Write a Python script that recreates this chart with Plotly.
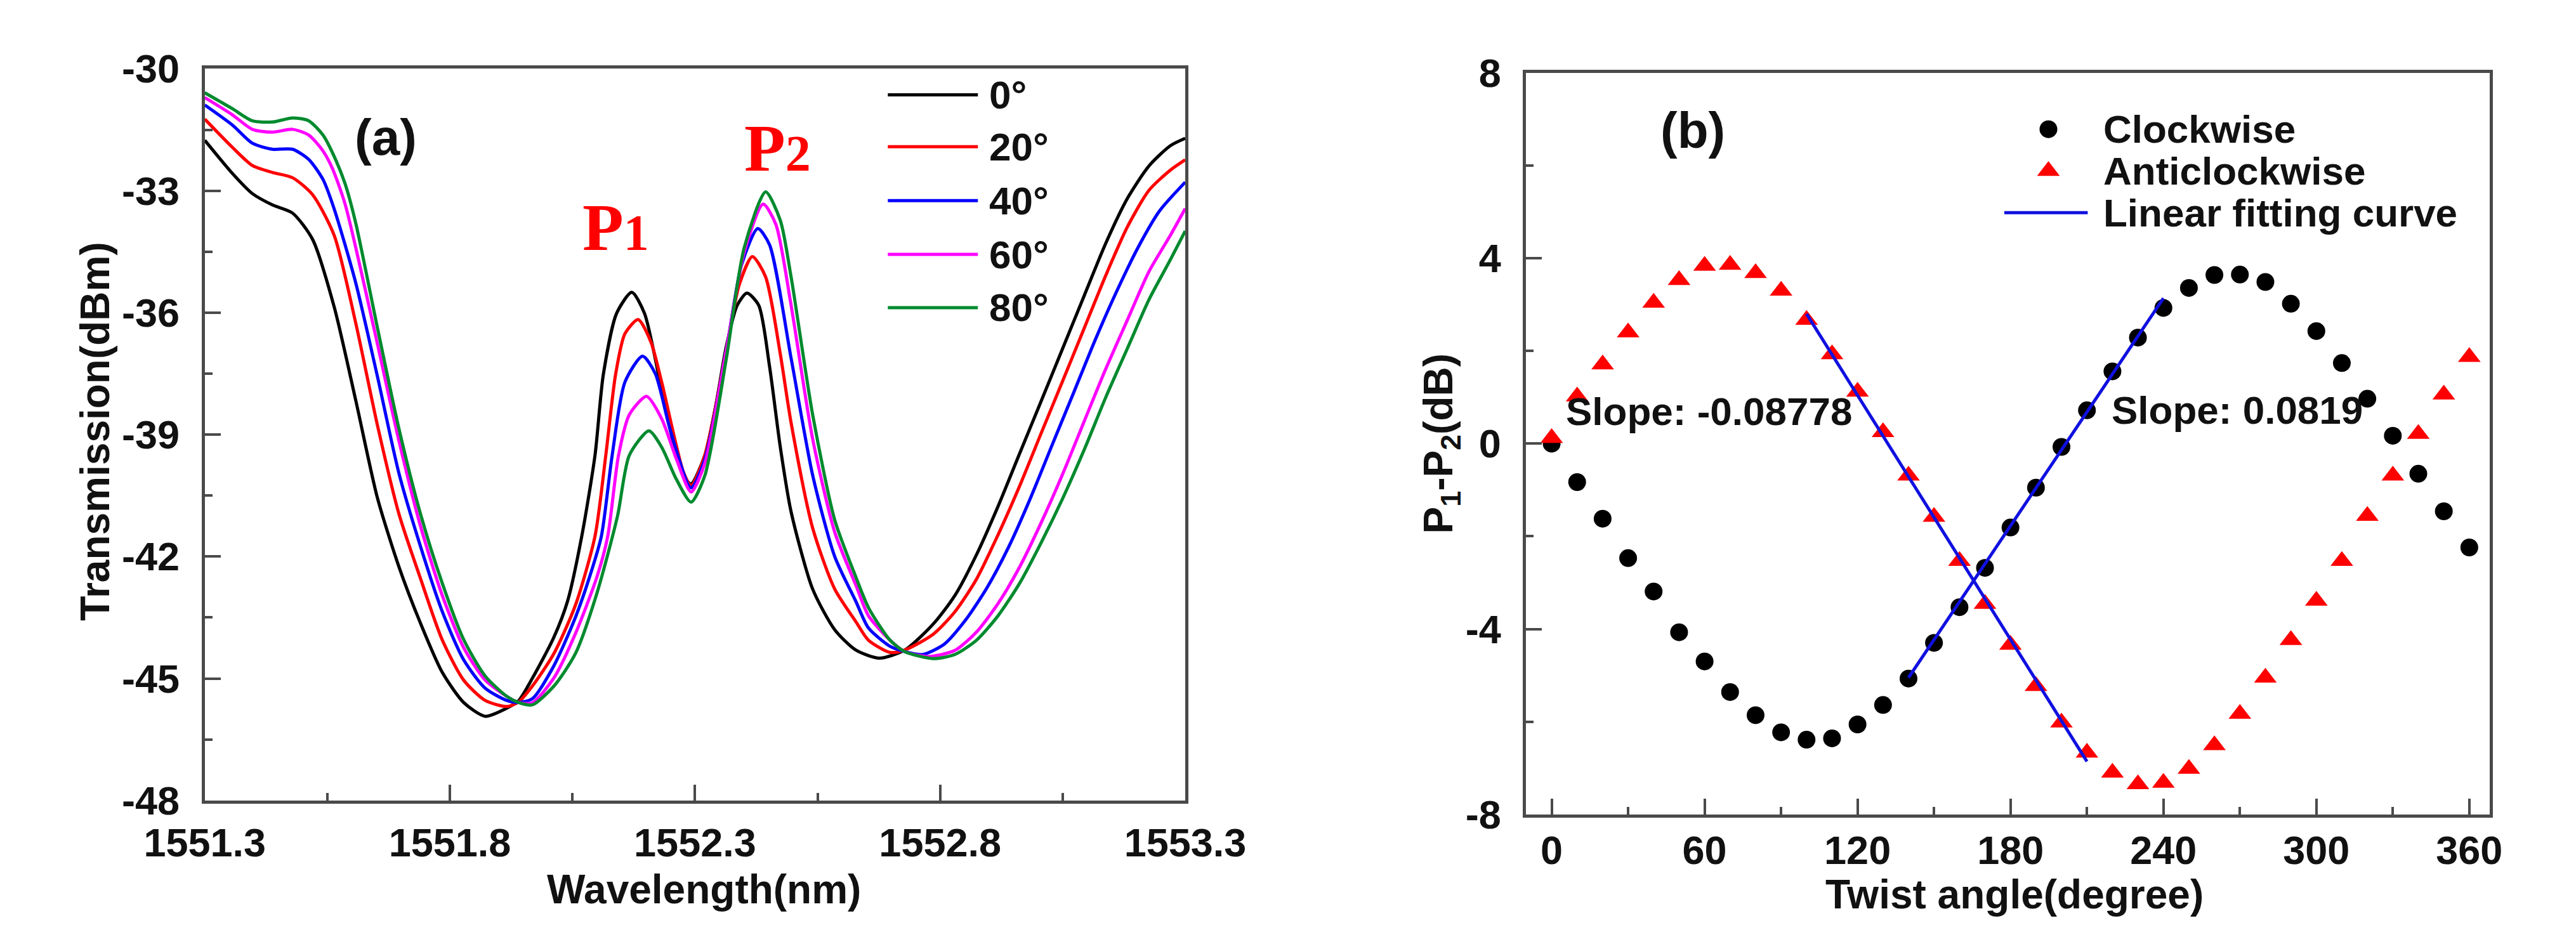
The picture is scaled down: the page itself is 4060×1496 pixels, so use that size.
import plotly.graph_objects as go

# -------------------------------
# (a) transmission spectra, one list per twist angle
# -------------------------------
wl_0 = [1551.300, 1551.356, 1551.397, 1551.438, 1551.479, 1551.520, 1551.564, 1551.608, 1551.652, 1551.696,
        1551.740, 1551.784, 1551.828, 1551.872, 1551.916, 1551.940, 1551.968, 1552.012, 1552.040, 1552.069,
        1552.096, 1552.113, 1552.140, 1552.171, 1552.197, 1552.232, 1552.254, 1552.276, 1552.292, 1552.320,
        1552.342, 1552.364, 1552.386, 1552.406, 1552.430, 1552.452, 1552.474, 1552.496, 1552.540, 1552.585,
        1552.628, 1552.676, 1552.728, 1552.786, 1552.830, 1552.874, 1552.918, 1552.962, 1553.006, 1553.050,
        1553.094, 1553.138, 1553.182, 1553.226, 1553.270, 1553.300]
tr_0 = [-31.76, -32.57, -33.07, -33.35, -33.55, -34.20, -35.86, -38.16, -40.55, -42.25,
        -43.64, -44.84, -45.59, -45.93, -45.73, -45.55, -45.00, -43.99, -43.10, -41.50,
        -39.51, -37.52, -36.02, -35.50, -36.02, -37.91, -39.11, -40.01, -40.21, -39.51,
        -38.31, -36.82, -35.82, -35.52, -35.82, -37.32, -39.31, -40.90, -42.80, -43.80,
        -44.30, -44.50, -44.30, -43.66, -42.96, -41.96, -40.77, -39.47, -38.18, -36.88,
        -35.58, -34.29, -33.19, -32.39, -31.89, -31.71]

wl_20 = [1551.300, 1551.356, 1551.397, 1551.438, 1551.479, 1551.520, 1551.564, 1551.608, 1551.652, 1551.696,
         1551.740, 1551.784, 1551.828, 1551.872, 1551.916, 1551.940, 1551.968, 1552.012, 1552.056, 1552.096,
         1552.118, 1552.138, 1552.157, 1552.184, 1552.210, 1552.232, 1552.276, 1552.292, 1552.320, 1552.364,
         1552.390, 1552.417, 1552.444, 1552.474, 1552.496, 1552.540, 1552.585, 1552.628, 1552.654, 1552.698,
         1552.728, 1552.786, 1552.830, 1552.874, 1552.918, 1552.962, 1553.006, 1553.050, 1553.094, 1553.138,
         1553.182, 1553.226, 1553.270, 1553.300]
tr_20 = [-31.24, -31.93, -32.38, -32.55, -32.68, -33.10, -34.10, -36.26, -38.76, -40.95,
         -42.54, -44.04, -45.04, -45.54, -45.69, -45.58, -45.19, -44.39, -43.20, -41.50,
         -39.51, -37.52, -36.52, -36.17, -36.72, -37.71, -39.91, -40.26, -39.51, -36.92,
         -35.32, -34.62, -35.12, -37.02, -38.71, -41.30, -42.80, -43.60, -44.06, -44.36,
         -44.30, -43.91, -43.36, -42.56, -41.47, -40.27, -38.97, -37.68, -36.38, -35.08,
         -33.89, -32.99, -32.49, -32.24]

wl_40 = [1551.300, 1551.356, 1551.397, 1551.438, 1551.479, 1551.512, 1551.541, 1551.564, 1551.608, 1551.652,
         1551.696, 1551.740, 1551.784, 1551.828, 1551.872, 1551.916, 1551.940, 1551.968, 1552.012, 1552.056,
         1552.085, 1552.109, 1552.131, 1552.157, 1552.193, 1552.219, 1552.250, 1552.292, 1552.320, 1552.364,
         1552.395, 1552.428, 1552.452, 1552.496, 1552.540, 1552.585, 1552.628, 1552.654, 1552.698, 1552.728,
         1552.764, 1552.808, 1552.852, 1552.896, 1552.940, 1552.984, 1553.028, 1553.072, 1553.116, 1553.160,
         1553.204, 1553.248, 1553.300]
tr_40 = [-30.89, -31.38, -31.83, -31.98, -31.98, -32.23, -32.72, -33.45, -35.27, -37.56,
         -39.95, -41.75, -43.34, -44.54, -45.24, -45.54, -45.59, -45.50, -44.69, -43.50,
         -42.50, -41.50, -39.51, -37.71, -37.07, -37.50, -38.91, -40.31, -39.61, -36.92,
         -34.82, -33.93, -34.33, -37.12, -40.00, -42.00, -43.10, -43.76, -44.21, -44.34,
         -44.41, -44.16, -43.56, -42.76, -41.76, -40.57, -39.27, -37.98, -36.68, -35.48,
         -34.39, -33.49, -32.79]

wl_60 = [1551.300, 1551.356, 1551.397, 1551.438, 1551.479, 1551.512, 1551.541, 1551.561, 1551.586, 1551.608,
         1551.652, 1551.696, 1551.740, 1551.784, 1551.828, 1551.872, 1551.916, 1551.940, 1551.968, 1552.012,
         1552.056, 1552.100, 1552.122, 1552.144, 1552.166, 1552.201, 1552.232, 1552.262, 1552.292, 1552.320,
         1552.364, 1552.400, 1552.439, 1552.465, 1552.496, 1552.540, 1552.585, 1552.628, 1552.654, 1552.698,
         1552.728, 1552.777, 1552.830, 1552.874, 1552.918, 1552.962, 1553.006, 1553.050, 1553.094, 1553.138,
         1553.182, 1553.226, 1553.270, 1553.300]
tr_60 = [-30.71, -31.13, -31.49, -31.56, -31.49, -31.63, -32.02, -32.47, -33.32, -34.40,
         -36.76, -39.15, -41.25, -42.94, -44.24, -45.04, -45.44, -45.59, -45.60, -44.99,
         -43.90, -42.50, -41.50, -39.51, -38.51, -38.06, -38.61, -39.60, -40.41, -39.71,
         -36.92, -34.52, -33.33, -33.83, -35.82, -39.11, -41.40, -42.70, -43.46, -44.06,
         -44.34, -44.46, -44.31, -43.86, -43.16, -42.26, -41.17, -39.97, -38.67, -37.38,
         -36.18, -34.99, -34.09, -33.44]

wl_80 = [1551.300, 1551.356, 1551.397, 1551.438, 1551.479, 1551.512, 1551.541, 1551.561, 1551.586, 1551.608,
         1551.652, 1551.696, 1551.740, 1551.784, 1551.828, 1551.872, 1551.916, 1551.940, 1551.968, 1552.012,
         1552.056, 1552.100, 1552.142, 1552.166, 1552.206, 1552.232, 1552.262, 1552.292, 1552.320, 1552.364,
         1552.400, 1552.444, 1552.474, 1552.496, 1552.540, 1552.585, 1552.628, 1552.654, 1552.698, 1552.728,
         1552.786, 1552.830, 1552.874, 1552.918, 1552.962, 1553.006, 1553.050, 1553.094, 1553.138, 1553.182,
         1553.226, 1553.270, 1553.300]
tr_80 = [-30.59, -30.98, -31.28, -31.31, -31.21, -31.28, -31.63, -32.08, -32.82, -33.80,
         -36.36, -38.85, -40.95, -42.64, -44.04, -44.94, -45.44, -45.59, -45.65, -45.19,
         -44.39, -42.90, -41.00, -39.51, -38.91, -39.31, -40.10, -40.66, -40.01, -37.12,
         -34.42, -33.03, -33.73, -35.12, -38.51, -41.10, -42.50, -43.26, -44.06, -44.34,
         -44.51, -44.41, -44.06, -43.46, -42.66, -41.66, -40.57, -39.37, -38.08, -36.88,
         -35.68, -34.69, -33.99]

spectra_labels = ["0°", "20°", "40°", "60°", "80°"]
spectra_colors = ["#000000", "#ff0000", "#0000ff", "#ff00ff", "#008a2e"]

wl_ticks = [1551.3, 1551.8, 1552.3, 1552.8, 1553.3]
wl_ticktext = ["1551.3", "1551.8", "1552.3", "1552.8", "1553.3"]
wl_minor = [1551.55, 1552.05, 1552.55, 1553.05]
tr_ticks = [-48, -45, -42, -39, -36, -33, -30]
tr_ticktext = ["-48", "-45", "-42", "-39", "-36", "-33", "-30"]
tr_minor = [-46.5, -43.5, -40.5, -37.5, -34.5, -31.5]

# -------------------------------
# (b) P1-P2 vs twist angle
# -------------------------------
angle = [0, 10, 20, 30, 40, 50, 60, 70, 80, 90, 100, 110, 120, 130, 140, 150, 160, 170, 180,
         190, 200, 210, 220, 230, 240, 250, 260, 270, 280, 290, 300, 310, 320, 330, 340, 350, 360]
clockwise = [0.00, -0.83, -1.62, -2.47, -3.19, -4.07, -4.70, -5.36, -5.86, -6.23, -6.39, -6.36, -6.06,
             -5.64, -5.07, -4.30, -3.53, -2.68, -1.81, -0.95, -0.07, 0.72, 1.56, 2.29, 2.93, 3.36,
             3.64, 3.65, 3.49, 3.02, 2.43, 1.74, 0.97, 0.17, -0.65, -1.46, -2.24]
anticlockwise = [0.12, 1.02, 1.71, 2.40, 3.04, 3.53, 3.84, 3.86, 3.68, 3.30, 2.67, 1.93, 1.12,
                 0.25, -0.69, -1.58, -2.53, -3.46, -4.34, -5.23, -6.02, -6.67, -7.10, -7.35, -7.32,
                 -7.02, -6.51, -5.83, -5.05, -4.24, -3.39, -2.53, -1.56, -0.69, 0.21, 1.06, 1.87]
fit_cw_x = [140, 240]
fit_cw_y = [-5.05, 3.14]
fit_acw_x = [100, 210]
fit_acw_y = [2.80, -6.86]

ang_ticks = [0, 60, 120, 180, 240, 300, 360]
ang_minor = [30, 90, 150, 210, 270, 330]
diff_ticks = [-8, -4, 0, 4, 8]
diff_ticktext = ["-8", "-4", "0", "4", "8"]
diff_minor = [-6, -2, 2, 6]

# -------------------------------
# figure
# -------------------------------
W, H = 4060, 1496
FONT = "Liberation Sans, Arial, sans-serif"
AX = "#4a4a4a"


def px(x, y):
    # pixel position on the page -> paper fraction
    return x / W, 1 - y / H


fig = go.Figure()

for wl, tr, c in zip([wl_0, wl_20, wl_40, wl_60, wl_80],
                     [tr_0, tr_20, tr_40, tr_60, tr_80], spectra_colors):
    fig.add_trace(go.Scatter(x=wl, y=tr, mode="lines", xaxis="x", yaxis="y",
                             line=dict(color=c, width=5, shape="spline", smoothing=0.7),
                             showlegend=False))

fig.add_trace(go.Scatter(x=angle, y=clockwise, mode="markers", xaxis="x2", yaxis="y2",
                         marker=dict(symbol="circle", size=28, color="#000000"), showlegend=False))
fig.add_trace(go.Scatter(x=angle, y=anticlockwise, mode="markers", xaxis="x2", yaxis="y2",
                         marker=dict(symbol="triangle-up", size=31, color="#ff0000"), showlegend=False))
for fx, fy in [(fit_acw_x, fit_acw_y), (fit_cw_x, fit_cw_y)]:
    fig.add_trace(go.Scatter(x=fx, y=fy, mode="lines", xaxis="x2", yaxis="y2",
                             line=dict(color="#1010e0", width=5), showlegend=False))

tickfont = dict(family=FONT, size=63, color="#111111", weight="bold")
axis_common = dict(showline=True, linecolor=AX, linewidth=5, mirror=True,
                   ticks="inside", ticklen=25, tickwidth=4, tickcolor=AX,
                   showgrid=False, zeroline=False, tickfont=tickfont, tickmode="array")

fig.update_layout(
    width=W, height=H,
    margin=dict(l=0, r=0, t=0, b=0),
    paper_bgcolor="white", plot_bgcolor="white",
    showlegend=False,
    xaxis=dict(axis_common, domain=[238 / W, 1860 / W], anchor="y", range=[1551.3, 1553.3],
               tickvals=wl_ticks, ticktext=wl_ticktext, ticklabelstandoff=8,
               minor=dict(ticks="inside", ticklen=12, tickwidth=4, tickcolor=AX, tickvals=wl_minor)),
    yaxis=dict(axis_common, domain=[1 - 1287 / H, 1 - 77 / H], anchor="x", range=[-48, -30],
               tickvals=tr_ticks, ticktext=tr_ticktext, ticklabelstandoff=22,
               minor=dict(ticks="inside", ticklen=12, tickwidth=4, tickcolor=AX, tickvals=tr_minor)),
    xaxis2=dict(axis_common, domain=[2424 / W, 4018 / W], anchor="y2", range=[-10, 368],
                tickvals=ang_ticks, ticklabelstandoff=-2,
                minor=dict(ticks="inside", ticklen=12, tickwidth=4, tickcolor=AX, tickvals=ang_minor)),
    yaxis2=dict(axis_common, domain=[1 - 1310 / H, 1 - 84 / H], anchor="x2", range=[-8, 8],
                tickvals=diff_ticks, ticktext=diff_ticktext, ticklabelstandoff=22,
                minor=dict(ticks="inside", ticklen=12, tickwidth=4, tickcolor=AX, tickvals=diff_minor)),
)

label_font = dict(family=FONT, size=62, color="#111111", weight="bold")
title_font = dict(family=FONT, size=64, color="#111111", weight="bold")
annotations = []

# axis titles
for text, (x, y), angle_ in [("Wavelength(nm)", px(1064, 1434), 0),
                             ("Transmission(dBm)", px(57, 677), -90),
                             ("Twist angle(degree)", px(3232, 1442), 0),
                             ("P<sub>1</sub>-P<sub>2</sub>(dB)", px(2283, 697), -90)]:
    annotations.append(dict(text=text, x=x, y=y, xref="paper", yref="paper", showarrow=False,
                            xanchor="center", yanchor="middle", textangle=angle_, font=title_font))

# panel tags
for text, (x, y) in [("(a)", px(537, 190)), ("(b)", px(2700, 179))]:
    annotations.append(dict(text=text, x=x, y=y, xref="paper", yref="paper", showarrow=False,
                            xanchor="center", yanchor="middle",
                            font=dict(family=FONT, size=80, color="#111111", weight="bold")))

# peak names
peak_font = dict(family="Liberation Serif, Times New Roman, serif", size=106, color="#ff0000", weight="bold")
for text, x, y in [("P<span style='font-size:80px'>1</span>", 1552.138, -33.91),
                   ("P<span style='font-size:80px'>2</span>", 1552.468, -31.95)]:
    annotations.append(dict(text=text, x=x, y=y, xref="x", yref="y", showarrow=False,
                            xanchor="center", yanchor="middle", font=peak_font))

# slopes
for text, x, y in [("Slope: -0.08778", 5.2, 0.69), ("Slope: 0.0819", 219.2, 0.73)]:
    annotations.append(dict(text=text, x=x, y=y, xref="x2", yref="y2", showarrow=False,
                            xanchor="left", yanchor="middle", font=label_font))

# legend (a)
shapes = []
leg_rows = [120, 206, 295, 384, 472]
for lab, col, yy in zip(spectra_labels, spectra_colors, leg_rows):
    x0, y0 = px(1368, yy)
    x1, _ = px(1517, yy)
    shapes.append(dict(type="line", xref="paper", yref="paper", x0=x0, x1=x1, y0=y0, y1=y0,
                       line=dict(color=col, width=5)))
    tx, _ = px(1534, yy)
    annotations.append(dict(text=lab, x=tx, y=y0, xref="paper", yref="paper", showarrow=False,
                            xanchor="left", yanchor="middle", font=label_font))

# legend (b)
cx, cy = px(3288, 177)
shapes.append(dict(type="circle", xref="paper", yref="paper", xsizemode="pixel", ysizemode="pixel",
                   xanchor=cx, yanchor=cy, x0=-14, x1=14, y0=-14, y1=14,
                   fillcolor="#000000", line=dict(width=0)))
tx_, ty_ = px(3288, 246)
shapes.append(dict(type="path", xref="paper", yref="paper", xsizemode="pixel", ysizemode="pixel",
                   xanchor=tx_, yanchor=ty_, path="M-17.9,-7.75 L17.9,-7.75 L0,15.5 Z",
                   fillcolor="#ff0000", line=dict(width=0)))
lx0, ly = px(3215, 315)
lx1, _ = px(3353, 315)
shapes.append(dict(type="line", xref="paper", yref="paper", x0=lx0, x1=lx1, y0=ly, y1=ly,
                   line=dict(color="#1010e0", width=5)))
for text, yy in [("Clockwise", 177), ("Anticlockwise", 246), ("Linear fitting curve", 315)]:
    x, y = px(3377, yy)
    annotations.append(dict(text=text, x=x, y=y, xref="paper", yref="paper", showarrow=False,
                            xanchor="left", yanchor="middle", font=label_font))

fig.update_layout(annotations=annotations, shapes=shapes)

fig.write_html("out.html", config={"displayModeBar": False},
               post_script="document.body.style.margin='0';")
